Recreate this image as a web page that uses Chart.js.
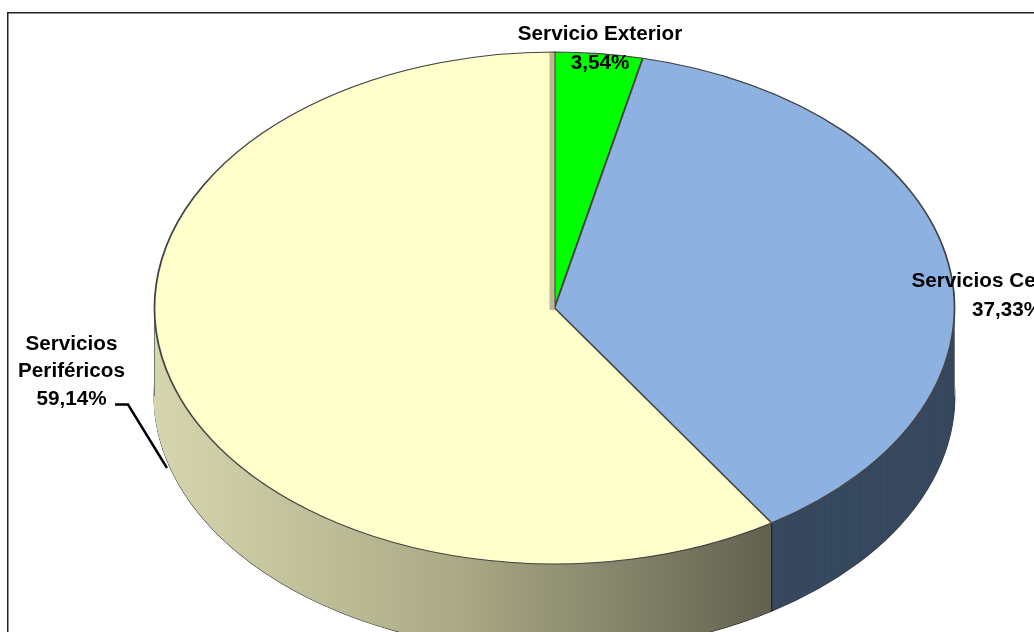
<!DOCTYPE html>
<html>
<head>
<meta charset="utf-8">
<style>html,body{margin:0;padding:0;background:#fff;overflow:hidden}canvas{display:block}</style>
<script src="https://cdn.jsdelivr.net/npm/chart.js@4/dist/chart.umd.min.js"></script>
</head>
<body>
<canvas id="c" width="1034" height="632"></canvas>
<script>
const categories = ["Servicio Exterior", "Servicios Centrales", "Servicios Periféricos"];
const values = [3.54, 37.33, 59.14];
const valueLabels = ["3,54%", "37,33%", "59,14%"];
const topColors = ["#00FF00", "#8DB1E1", "#FFFFCC"];
const sideColors = ["#008000", "#384A60", null];

const PIE = {cx: 554.5, cy: 308, rx: 400, ry: 256, depth: 88};

function place(ctx, arc, dy) {
  ctx.translate(PIE.cx, PIE.cy + dy);
  ctx.scale(PIE.rx / arc.outerRadius, PIE.ry / arc.outerRadius);
  ctx.translate(-arc.x, -arc.y);
}
function rimPoint(angle) {
  return [PIE.cx + PIE.rx * Math.cos(angle), PIE.cy + PIE.ry * Math.sin(angle)];
}
function withOptions(arc, extra, fn) {
  const saved = arc.options;
  arc.options = Object.assign(Object.create(saved), extra);
  fn();
  arc.options = saved;
}
function segment(ctx, x1, y1, x2, y2, color, width) {
  ctx.save();
  ctx.strokeStyle = color;
  ctx.lineWidth = width;
  ctx.beginPath();
  ctx.moveTo(x1, y1);
  ctx.lineTo(x2, y2);
  ctx.stroke();
  ctx.restore();
}

const pie3d = {
  id: "pie3d",
  beforeDatasetDraw(chart, args) {
    const ctx = chart.ctx, arcs = args.meta.data, a0 = arcs[0];
    const sx = PIE.rx / a0.outerRadius;
    const grad = ctx.createLinearGradient(a0.x + (154 - PIE.cx) / sx, 0, a0.x + (771 - PIE.cx) / sx, 0);
    grad.addColorStop(0, "#D6D6AE");
    grad.addColorStop(0.5, "#A9A985");
    grad.addColorStop(1, "#626150");
    // walls: back slices first, so the front slice hides their inner faces
    arcs.forEach((arc, i) => {
      const fill = sideColors[i] || grad;
      for (let d = PIE.depth; d >= 1; d -= 0.5) {
        ctx.save();
        place(ctx, arc, d);
        const outline = d === PIE.depth;
        withOptions(arc, {
          backgroundColor: fill,
          borderWidth: outline ? 1.4 : 0.8,
          borderColor: outline ? "#333" : fill
        }, () => arc.draw(ctx));
        ctx.restore();
      }
    });
    // wall edges
    const [jx, jy] = rimPoint(arcs[2].startAngle);
    segment(ctx, jx, jy, jx, jy + PIE.depth, "#2b2a20", 1.4);
    segment(ctx, PIE.cx - PIE.rx, PIE.cy, PIE.cx - PIE.rx, PIE.cy + PIE.depth, "#777", 1);
    segment(ctx, PIE.cx + PIE.rx, PIE.cy, PIE.cx + PIE.rx, PIE.cy + PIE.depth, "#777", 1);
    ctx.save();
    place(ctx, a0, 0);
  },
  afterDatasetDraw(chart, args) {
    const ctx = chart.ctx, arcs = args.meta.data;
    ctx.restore();
    // thin inner face visible at the top of the pale slice
    const [tx, ty] = rimPoint(arcs[0].startAngle);
    ctx.save();
    ctx.fillStyle = "#BDB88F";
    ctx.beginPath();
    ctx.moveTo(tx, ty + 1);
    ctx.lineTo(tx, PIE.cy + 2);
    ctx.lineTo(tx - 5, PIE.cy + 2);
    ctx.lineTo(tx - 5, ty + 1);
    ctx.closePath();
    ctx.fill();
    ctx.restore();
  },
  afterDraw(chart) {
    const ctx = chart.ctx;
    ctx.save();
    // frame
    ctx.strokeStyle = "#222";
    ctx.lineWidth = 1.5;
    ctx.beginPath();
    ctx.moveTo(7.75, 632);
    ctx.lineTo(7.75, 12.75);
    ctx.lineTo(1034, 12.75);
    ctx.stroke();
    // labels
    ctx.fillStyle = "#000";
    ctx.font = "bold 20.7px 'Liberation Sans', Arial, sans-serif";
    ctx.textAlign = "center";
    ctx.textBaseline = "alphabetic";
    ctx.fillText(categories[0], 600, 40);
    ctx.fillText(valueLabels[0], 600, 69);
    ctx.fillText(categories[1], 1007.5, 287);
    ctx.fillText(valueLabels[1], 1007, 316);
    const parts = categories[2].split(" ");
    ctx.fillText(parts[0], 71.5, 350);
    ctx.fillText(parts[1], 71.5, 377);
    ctx.fillText(valueLabels[2], 71.5, 405);
    // leader line
    ctx.strokeStyle = "#000";
    ctx.lineWidth = 2.4;
    ctx.beginPath();
    ctx.moveTo(115, 404.5);
    ctx.lineTo(128, 404.5);
    ctx.lineTo(167, 468);
    ctx.stroke();
    ctx.restore();
  }
};

new Chart(document.getElementById("c"), {
  type: "pie",
  data: {
    labels: categories,
    datasets: [{
      data: values,
      backgroundColor: topColors,
      borderColor: "#444",
      borderWidth: 1.4,
      clip: false
    }]
  },
  options: {
    responsive: false,
    animation: false,
    events: [],
    layout: {padding: 0},
    plugins: {legend: {display: false}, tooltip: {enabled: false}}
  },
  plugins: [pie3d]
});
</script>
</body>
</html>
